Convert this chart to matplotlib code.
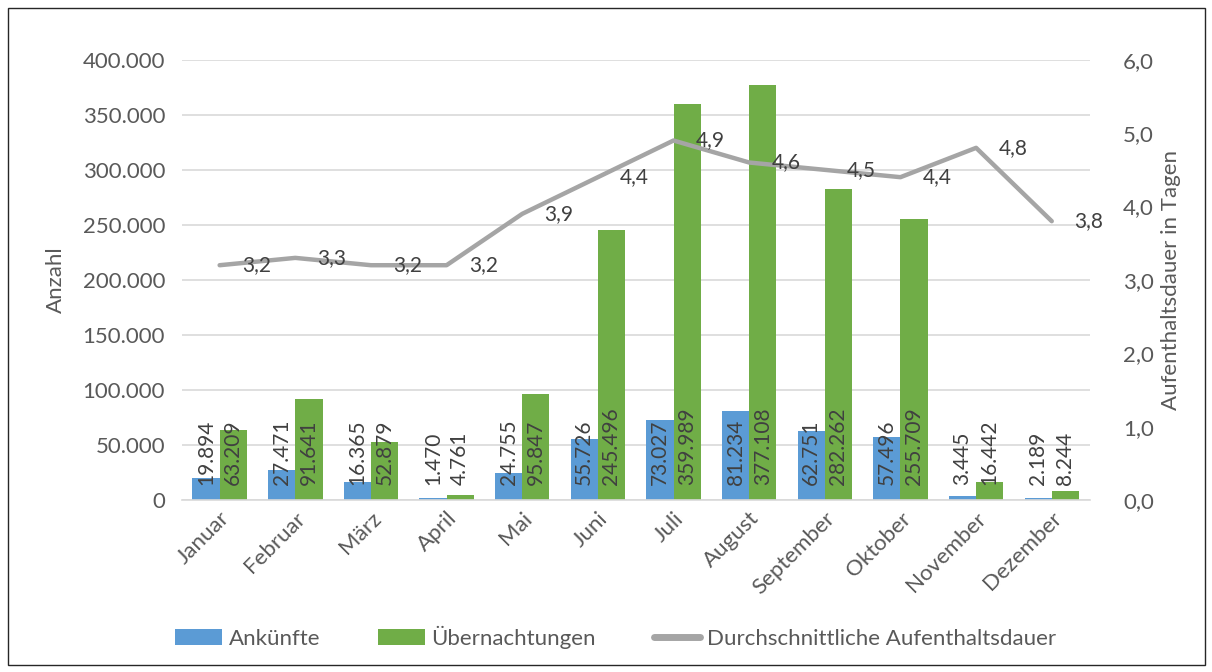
import matplotlib
matplotlib.use("Agg")
import matplotlib.pyplot as plt
import matplotlib.ticker as mticker
from matplotlib.patches import Rectangle
from matplotlib.lines import Line2D
from matplotlib.patches import Patch
import numpy as np

plt.rcParams["font.family"] = ["Lato", "DejaVu Sans"]

# ---------------------------------------------------------------------------
# Data
# ---------------------------------------------------------------------------
months = ["Januar", "Februar", "März", "April", "Mai", "Juni", "Juli",
          "August", "September", "Oktober", "November", "Dezember"]
ankuenfte = [19894, 27471, 16365, 1470, 24755, 55726, 73027,
             81234, 62751, 57496, 3445, 2189]
uebernachtungen = [63209, 91641, 52879, 4761, 95847, 245496, 359989,
                   377108, 282262, 255709, 16442, 8244]
aufenthalt = [3.2, 3.3, 3.2, 3.2, 3.9, 4.4, 4.9, 4.6, 4.5, 4.4, 4.8, 3.8]

BLUE = "#5B9BD5"
GREEN = "#70AD47"
GREY = "#A5A5A5"
TXT = "#595959"
LBL = "#404040"
GRID = "#D9D9D9"


def de_int(v):
    return f"{v:,}".replace(",", ".")


def de_dec(v):
    return f"{v:.1f}".replace(".", ",")


fig = plt.figure(figsize=(12.12, 6.72), dpi=100)
ax = fig.add_axes([0.150, 0.256, 0.749, 0.655])

x = np.arange(len(months))
w = 0.36
ax.bar(x - w / 2, ankuenfte, width=w, color=BLUE, zorder=2)
ax.bar(x + w / 2, uebernachtungen, width=w, color=GREEN, zorder=2)

# value labels at the bar base, rotated
for xi, a, u in zip(x, ankuenfte, uebernachtungen):
    for xx, v in ((xi - w / 2, a), (xi + w / 2, u)):
        ax.annotate(de_int(v), xy=(xx, 0), xytext=(0, 11),
                    textcoords="offset points", rotation=90,
                    ha="center", va="bottom", fontsize=15, color=LBL,
                    zorder=3)

ax.set_xlim(-0.5, len(months) - 0.5)
ax.set_ylim(0, 400000)
ax.yaxis.set_major_locator(mticker.MultipleLocator(50000))
ax.yaxis.set_major_formatter(mticker.FuncFormatter(lambda v, p: de_int(int(v))))
ax.grid(axis="y", color=GRID, linewidth=1.2, zorder=0)
ax.set_axisbelow(True)
for s in ("top", "right", "left"):
    ax.spines[s].set_visible(False)
ax.spines["bottom"].set_color(GRID)
ax.spines["bottom"].set_linewidth(1.2)
ax.tick_params(axis="y", length=0, pad=12, labelsize=16, colors=TXT)
ax.tick_params(axis="x", length=0, pad=6, labelsize=16, colors=TXT)
ax.set_xticks(x)
ax.set_xticklabels(months, rotation=45, ha="right", rotation_mode="anchor")
ax.set_ylabel("Anzahl", fontsize=16, color=TXT, labelpad=12)

# Line on secondary axis
ax2 = ax.twinx()
ax2.plot(x, aufenthalt, color=GREY, linewidth=3.2, solid_capstyle="round",
         solid_joinstyle="round", zorder=4)
for xi, v in zip(x, aufenthalt):
    ax2.annotate(de_dec(v), xy=(xi, v), xytext=(16, 0),
                 textcoords="offset points", ha="left", va="center",
                 fontsize=15, color=LBL, zorder=5)
ax2.set_ylim(0, 6)
ax2.yaxis.set_major_locator(mticker.MultipleLocator(1))
ax2.yaxis.set_major_formatter(mticker.FuncFormatter(lambda v, p: de_dec(v)))
for s in ax2.spines.values():
    s.set_visible(False)
ax2.tick_params(axis="y", length=0, pad=24, labelsize=16, colors=TXT)
ax2.set_ylabel("Aufenthaltsdauer in Tagen", fontsize=16, color=TXT, labelpad=5)

# Legend
handles = [
    Patch(facecolor=BLUE, edgecolor="none", label="Ankünfte"),
    Patch(facecolor=GREEN, edgecolor="none", label="Übernachtungen"),
    Line2D([0], [0], color=GREY, linewidth=5, solid_capstyle="round",
           label="Durchschnittliche Aufenthaltsdauer"),
]
fig.legend(handles=handles, loc="center", bbox_to_anchor=(0.508, 0.052),
           ncol=3, frameon=False, fontsize=16, labelcolor=TXT,
           handlelength=2.1, handleheight=0.75, handletextpad=0.3,
           columnspacing=2.6)

# Outer frame
fig.patches.append(Rectangle((0.007, 0.011), 0.987, 0.977,
                             transform=fig.transFigure, fill=False,
                             edgecolor="#262626", linewidth=1))

fig.savefig("out.png", dpi=100)
